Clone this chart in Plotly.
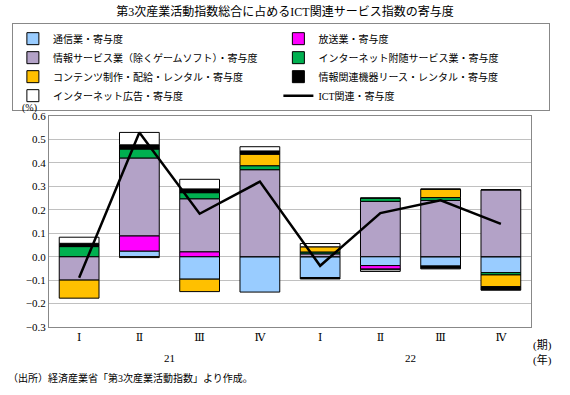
import plotly.graph_objects as go

quarters = ["Ⅰ", "Ⅱ", "Ⅲ", "Ⅳ", "Ⅰ", "Ⅱ", "Ⅲ", "Ⅳ"]
years = ["21", "22"]

tsushin = [0.0, 0.024, -0.096, -0.151, -0.089, -0.038, -0.040, -0.068]
hoso = [0.0, 0.065, 0.021, 0.0, 0.0, -0.015, 0.0, 0.0]
joho_service = [-0.100, 0.332, 0.226, 0.371, 0.012, 0.236, 0.240, 0.285]
internet_fuzui = [0.043, 0.038, 0.026, 0.017, 0.008, 0.014, 0.012, -0.010]
contents = [-0.077, -0.004, -0.053, 0.049, 0.022, 0.0, 0.036, -0.050]
lease = [0.014, 0.018, 0.016, 0.014, -0.006, -0.003, -0.012, -0.015]
net_ad = [0.026, 0.053, 0.041, 0.018, 0.014, -0.007, 0.0, 0.0]
ict_total = [-0.090, 0.530, 0.183, 0.320, -0.039, 0.186, 0.240, 0.140]

series = [
    ("通信業・寄与度", tsushin, "#99CCFF"),
    ("放送業・寄与度", hoso, "#FF00FF"),
    ("情報サービス業（除くゲームソフト）・寄与度", joho_service, "#B3A2C7"),
    ("インターネット附随サービス業・寄与度", internet_fuzui, "#00B050"),
    ("コンテンツ制作・配給・レンタル・寄与度", contents, "#FFC000"),
    ("情報関連機器リース・レンタル・寄与度", lease, "#000000"),
    ("インターネット広告・寄与度", net_ad, "#FFFFFF"),
]

FONT = "Liberation Serif, DejaVu Serif, Noto Sans CJK JP"
x_idx = list(range(len(quarters)))

fig = go.Figure()
for name, vals, col in series:
    fig.add_trace(go.Bar(
        x=x_idx, y=vals, name=name,
        marker=dict(color=col, line=dict(color="#000000", width=1)),
    ))
fig.add_trace(go.Scatter(
    x=x_idx, y=ict_total, name="ICT関連・寄与度", mode="lines",
    line=dict(color="#000000", width=2.5),
))

fig.update_layout(
    width=570, height=395,
    margin=dict(l=49, r=39, t=116, b=68, autoexpand=False),
    paper_bgcolor="white", plot_bgcolor="white",
    barmode="relative", bargap=0.34,
    font=dict(family=FONT, size=11, color="#000000"),
    title=dict(text="第3次産業活動指数総合に占めるICT関連サービス指数の寄与度",
               x=0.5, xanchor="center", y=0.97, yanchor="middle",
               font=dict(family=FONT, size=12)),
    legend=dict(
        orientation="h", x=-0.077, xanchor="left",
        y=1.44, yanchor="top",
        entrywidth=0.5, entrywidthmode="fraction",
        bordercolor="#888888", borderwidth=1, bgcolor="white",
        font=dict(family=FONT, size=10), traceorder="normal",
        itemwidth=30,
    ),
    showlegend=True,
)
fig.update_xaxes(
    tickmode="array", tickvals=x_idx, ticktext=quarters,
    range=[-0.5, len(quarters) - 0.5],
    showline=True, linecolor="#888888", mirror=True, showgrid=False,
    ticks="", tickfont=dict(family=FONT, size=11),
)
fig.update_yaxes(
    range=[-0.3, 0.6], dtick=0.1, tickformat=".1f",
    showline=True, linecolor="#888888", mirror=True,
    showgrid=True, gridcolor="#C0C0C0", gridwidth=1,
    zeroline=False, ticks="", tickfont=dict(family=FONT, size=11),
)

annotations = [
    dict(text="(%)", xref="paper", yref="paper", x=-0.02, y=1.0,
         xanchor="right", yanchor="bottom", showarrow=False, font=dict(size=10)),
    dict(text=years[0], xref="paper", yref="paper", x=0.25, y=-0.145,
         xanchor="center", yanchor="middle", showarrow=False),
    dict(text=years[1], xref="paper", yref="paper", x=0.75, y=-0.145,
         xanchor="center", yanchor="middle", showarrow=False),
    dict(text="(期)", xref="paper", yref="paper", x=1.0, y=-0.09,
         xanchor="left", yanchor="middle", showarrow=False),
    dict(text="(年)", xref="paper", yref="paper", x=1.0, y=-0.155,
         xanchor="left", yanchor="middle", showarrow=False),
    dict(text="（出所）経済産業省「第3次産業活動指数」より作成。", xref="paper", yref="paper",
         x=-0.09, y=-0.243, xanchor="left", yanchor="middle", showarrow=False,
         font=dict(size=10)),
]
fig.update_layout(annotations=annotations)

fig.write_html("out.html", config={"displayModeBar": False},
               post_script="document.body.style.margin='0';")
